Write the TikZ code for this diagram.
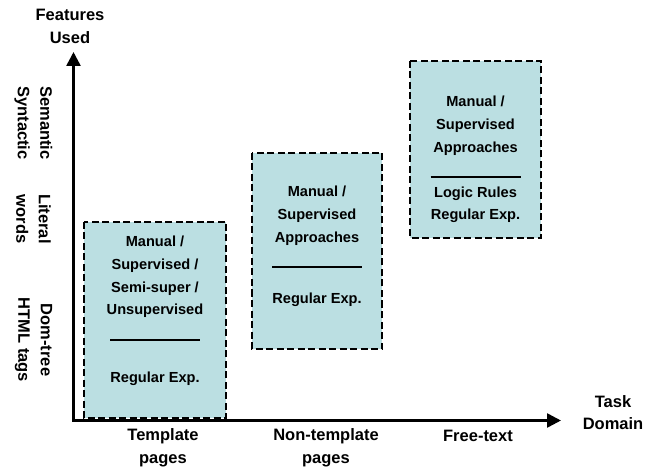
\documentclass[tikz,border=0pt]{standalone}
\usepackage{fontspec}
\setmainfont{Liberation Sans}
\usetikzlibrary{arrows.meta}

\definecolor{boxfill}{HTML}{BBDFE2}

\tikzstyle{axisline}=[line width=2.5pt, line cap=rect, -{Triangle[length=14pt,width=14pt]}]
\tikzstyle{region}=[draw=black, fill=boxfill, line width=2.5pt, dash pattern=on 7pt off 3.5pt]
\tikzstyle{methodbox}=[font=\fontsize{14.6}{22.6}\selectfont\bfseries, align=center, inner sep=0pt]
\tikzstyle{axislabel}=[font=\fontsize{16.5}{22.5}\selectfont\bfseries, align=center, inner sep=0pt]

\newcommand{\sepline}{\rule[-3.5pt]{90pt}{2pt}}

\begin{document}
\begin{tikzpicture}[x=1pt,y=-1pt]
\useasboundingbox (0,0) rectangle (653,470);

% task regions
\draw[region] (84,222) rectangle (226,418);
\node[methodbox] (tmpl) at (155,311) {Manual /\\Supervised /\\Semi-super /\\Unsupervised\\\sepline\\[22.6pt]Regular Exp.};

\draw[region] (252,153) rectangle (382,349);
\node[methodbox] (nontmpl) at (317,246.5) {Manual /\\Supervised\\Approaches\\\sepline\\[16.2pt]Regular Exp.};

\draw[region] (410,61) rectangle (541,238);
\node[methodbox] (free) at (475.5,159.7) {Manual /\\Supervised\\Approaches\\\sepline\\Logic Rules\\Regular Exp.};

% axes
\coordinate (origin) at (73.5,420.5);
\coordinate (ytip) at (73.5,52);
\coordinate (xtip) at (561,420.5);
\draw[axisline] (origin) -- (ytip);
\draw[axisline] (origin) -- (xtip);

\node[axislabel] (used) at (70,26.5) {Features\\Used};
\node[axislabel] (domain) at (613,412.5) {Task\\Domain};

\node[axislabel] (xtmpl) at (163,448) {Template\\pages};
\node[axislabel] (xnontmpl) at (326,448) {Non-template\\pages};
\node[axislabel] (xfree) at (478,436) {Free-text};

\foreach \ypos/\txt [count=\i] in {123/{Semantic\\Syntactic}, 219/{Literal\\words}, 340/{Dom-tree\\HTML tags}}{
  \node[axislabel, rotate=-90] (feat\i) at (33.5,\ypos) {\txt};
}

\end{tikzpicture}
\end{document}
